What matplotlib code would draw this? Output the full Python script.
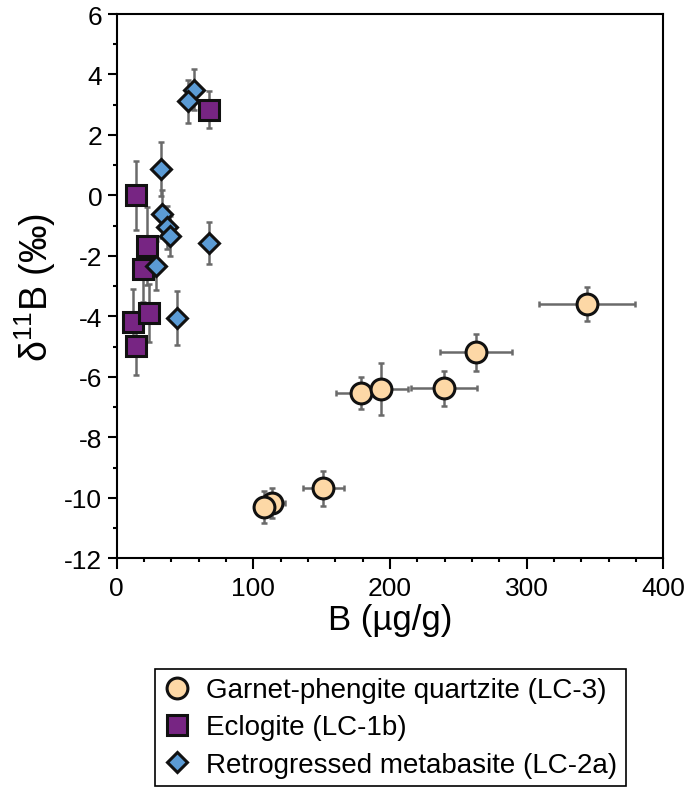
import matplotlib
matplotlib.use("Agg")
from matplotlib import pyplot as plt
from matplotlib.ticker import MultipleLocator

plt.rcParams['font.family'] = ['Liberation Sans', 'DejaVu Sans']
plt.rcParams['mathtext.fontset'] = 'custom'
plt.rcParams['mathtext.rm'] = 'Liberation Sans'
plt.rcParams['mathtext.it'] = 'Liberation Sans:italic'
plt.rcParams['axes.unicode_minus'] = False

# garnet-phengite quartzite (LC-3)
gq_b = [178.6, 193.4, 239.7, 263.0, 344.4, 151.2, 113.4, 108.0]
gq_d = [-6.53, -6.40, -6.38, -5.19, -3.59, -9.69, -10.18, -10.30]
gq_bx = [18, 20, 24, 26.5, 35, 15, 10, 7]
gq_dy = [0.54, 0.87, 0.59, 0.62, 0.56, 0.58, 0.50, 0.52]

# eclogite (LC-1b)
ec_b = [67.5, 13.9, 21.9, 19.5, 11.7, 23.6, 14.1]
ec_d = [2.83, 0.01, -1.66, -2.43, -4.18, -3.89, -4.97]
ec_dy = [0.61, 1.14, 1.29, 1.10, 1.10, 0.96, 0.98]

# retrogressed metabasite (LC-2a)
rm_b = [56.8, 52.0, 32.2, 32.9, 36.6, 39.0, 67.5, 28.8, 44.4]
rm_d = [3.50, 3.11, 0.87, -0.62, -1.06, -1.33, -1.57, -2.32, -4.05]
rm_dy = [0.68, 0.72, 0.90, 0.80, 0.70, 0.66, 0.69, 0.80, 0.89]

labels = ['Garnet-phengite quartzite (LC-3)', 'Eclogite (LC-1b)',
          'Retrogressed metabasite (LC-2a)']

fig = plt.figure(figsize=(6.85, 8.03), dpi=100)
ax = fig.add_axes([0.1704, 0.3035, 0.7979, 0.6778])

ecol = '#6a6a6a'
eb = dict(fmt='none', ecolor=ecol, elinewidth=1.8, capsize=2.5, capthick=1.8, zorder=2)
ax.errorbar(gq_b, gq_d, xerr=gq_bx, yerr=gq_dy, **eb)
ax.errorbar(ec_b, ec_d, yerr=ec_dy, **eb)
ax.errorbar(rm_b, rm_d, yerr=rm_dy, **eb)

h1, = ax.plot(gq_b, gq_d, 'o', ms=15, mfc='#fdd8a6', mec='#111111', mew=2.2,
              ls='none', zorder=3, label=labels[0])
h2, = ax.plot(ec_b, ec_d, 's', ms=14, mfc='#772583', mec='#111111', mew=2.2,
              ls='none', zorder=4, label=labels[1])
h3, = ax.plot(rm_b, rm_d, 'D', ms=10.5, mfc='#5b9bd5', mec='#111111', mew=2.2,
              ls='none', zorder=5, label=labels[2])

ax.set_xlim(0, 400)
ax.set_ylim(-12, 6)
ax.xaxis.set_major_locator(MultipleLocator(100))
ax.xaxis.set_minor_locator(MultipleLocator(20))
ax.yaxis.set_major_locator(MultipleLocator(2))
ax.yaxis.set_minor_locator(MultipleLocator(1))
ax.tick_params(which='both', direction='out', width=1.5, labelsize=19, top=False, right=False)
ax.tick_params(axis='x', which='major', length=8, pad=5)
ax.tick_params(axis='y', which='major', length=6.5, pad=4)
ax.tick_params(which='minor', length=3)
for s in ax.spines.values():
    s.set_linewidth(1.5)

ax.set_xlabel('B (µg/g)', fontsize=25, labelpad=2)
ax.set_ylabel('δ$^{11}$B (‰)', fontsize=27, labelpad=4)

leg = fig.legend(handles=[h1, h2, h3], loc='upper left',
                 bbox_to_anchor=(0.2263, 0.1656), fontsize=20,
                 fancybox=False, edgecolor='black', framealpha=1,
                 handlelength=1.0, handletextpad=0.55, labelspacing=0.4,
                 borderpad=0.3, borderaxespad=0)
leg.get_frame().set_linewidth(1.2)

fig.savefig('out.png', dpi=100)
